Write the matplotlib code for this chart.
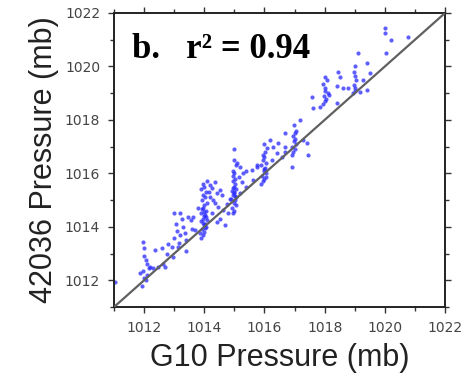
import matplotlib
matplotlib.use('Agg')
import matplotlib.pyplot as plt
from matplotlib.ticker import MultipleLocator

# G10 pressure (x) vs buoy 42036 pressure (y)
g10 = [
    # ~1011-1012
    1011.03, 1011.86, 1011.95, 1012.0, 1012.0, 1012.05, 1012.1, 1012.15, 1011.95, 1012.1,
    1012.0, 1012.05, 1011.92, 1012.2, 1012.3,
    # between 1012 and 1013
    1012.36, 1012.47, 1012.64, 1012.75, 1012.8, 1012.92, 1012.97, 1013.14, 1013.4, 1012.58,
    1012.7,
    # ~1013
    1013.0, 1013.2, 1013.05, 1013.25, 1013.3, 1013.1, 1013.35, 1013.0, 1013.2, 1013.4,
    1013.15, 1013.45, 1013.55, 1013.6,
    # ~1014 column
    1013.9, 1013.95, 1014.0, 1013.92, 1014.05, 1013.98, 1014.02, 1013.9, 1014.08, 1013.95,
    1014.0, 1013.88, 1014.05, 1013.96, 1014.0, 1014.1, 1013.93, 1014.02, 1013.97, 1014.04,
    1013.9, 1014.0, 1013.95, 1014.06, 1013.99, 1014.01, 1013.94, 1014.03,
    # scatter around 1014
    1014.19, 1014.36, 1014.41, 1014.52, 1014.3, 1014.47, 1014.24, 1014.63, 1014.52, 1014.69,
    1014.41, 1014.19, 1013.97, 1014.08, 1013.8, 1013.64, 1013.7, 1013.86, 1014.25, 1014.6,
    1014.35, 1014.15,
    # ~1015 column
    1014.95, 1015.0, 1014.92, 1015.05, 1014.98, 1015.02, 1014.9, 1015.06, 1014.96, 1015.0,
    1014.93, 1015.04, 1014.99, 1015.01, 1014.94, 1015.03, 1014.97, 1015.0, 1014.95, 1015.05,
    1015.0, 1014.98, 1015.02, 1014.96, 1015.0,
    # scatter around 1015
    1015.19, 1015.3, 1015.4, 1015.24, 1015.4, 1015.19, 1014.74, 1014.8, 1015.57, 1015.63,
    1015.74, 1015.15, 1015.1, 1014.85,
    # ~1016 column
    1015.9, 1015.95, 1016.0, 1015.92, 1016.05, 1015.98, 1016.02, 1015.9, 1016.06, 1015.96,
    1016.0, 1015.94, 1016.03, 1015.97, 1016.0, 1016.04,
    # scatter around 1016
    1016.18, 1016.29, 1016.4, 1016.57, 1016.68, 1016.46, 1016.24, 1016.1, 1015.75,
    # ~1017
    1016.9, 1016.95, 1017.0, 1016.92, 1017.05, 1016.98, 1017.02, 1016.96, 1017.0, 1017.04,
    1016.97, 1016.9, 1017.18, 1017.29, 1017.46, 1017.4, 1016.68, 1016.68,
    # ~1018
    1017.95, 1018.0, 1018.05, 1017.98, 1018.1, 1018.0, 1018.02, 1017.96, 1018.08, 1018.0,
    1017.57, 1017.62, 1017.84, 1018.4, 1018.45, 1018.4, 1018.62, 1018.15,
    # ~1019
    1018.95, 1019.0, 1019.02, 1018.98, 1019.05, 1019.0, 1018.96, 1019.0,
    1018.78, 1019.17, 1019.28, 1019.39, 1019.39, 1019.5, 1019.12, 1018.5,
    # ~1020+
    1020.0, 1020.02, 1020.05, 1020.2, 1020.78,
]
b42036 = [
    1011.95, 1012.27, 1013.45, 1013.2, 1012.9, 1012.75, 1012.6, 1012.45, 1012.35, 1012.2,
    1012.1, 1012.0, 1011.8, 1012.5, 1012.45,
    1013.15, 1012.5, 1012.62, 1013.0, 1013.37, 1013.25, 1012.87, 1013.25, 1013.1, 1013.19,
    1012.5,
    1014.5, 1014.5, 1014.1, 1014.3, 1014.0, 1013.85, 1013.75, 1013.6, 1013.7, 1013.5,
    1013.4, 1014.35, 1014.25, 1013.9,
    1013.6, 1013.7, 1013.8, 1013.9, 1014.0, 1014.05, 1014.1, 1014.2, 1014.25, 1014.3,
    1014.4, 1014.5, 1014.6, 1014.7, 1014.8, 1014.9, 1015.0, 1015.1, 1015.2, 1015.3,
    1015.4, 1015.5, 1014.15, 1014.35, 1014.55, 1013.95, 1014.65, 1014.45,
    1015.56, 1015.69, 1015.25, 1015.37, 1015.0, 1014.75, 1014.5, 1014.62, 1014.31, 1014.06,
    1014.19, 1015.1, 1015.6, 1015.7, 1014.7, 1014.37, 1013.87, 1013.75, 1015.45, 1015.2,
    1014.9, 1015.3,
    1014.5, 1014.6, 1014.7, 1014.8, 1014.9, 1015.0, 1015.05, 1015.1, 1015.2, 1015.3,
    1015.35, 1015.4, 1015.5, 1015.6, 1015.7, 1015.8, 1015.9, 1016.0, 1016.1, 1016.3,
    1016.5, 1016.9, 1015.15, 1015.45, 1015.25,
    1016.25, 1016.0, 1016.1, 1015.69, 1015.5, 1015.25, 1014.87, 1014.5, 1016.13, 1015.75,
    1016.25, 1015.85, 1016.4, 1015.05,
    1015.6, 1015.7, 1015.8, 1015.9, 1016.0, 1016.1, 1016.2, 1016.3, 1016.4, 1016.5,
    1016.6, 1016.7, 1016.8, 1017.1, 1016.15, 1015.85,
    1017.25, 1017.0, 1016.75, 1016.62, 1016.81, 1017.12, 1016.5, 1016.95, 1016.3,
    1016.7, 1016.8, 1016.9, 1017.0, 1017.1, 1017.2, 1017.3, 1017.4, 1017.5, 1017.6,
    1017.8, 1016.25, 1018.0, 1017.25, 1016.69, 1017.12, 1017.5, 1017.0,
    1018.6, 1018.7, 1018.8, 1018.9, 1019.0, 1019.1, 1019.2, 1019.35, 1019.5, 1019.6,
    1018.87, 1018.44, 1018.5, 1019.25, 1019.81, 1018.62, 1019.19, 1018.95,
    1019.0, 1019.1, 1019.2, 1019.3, 1019.5, 1019.65, 1019.8, 1020.0,
    1019.19, 1019.06, 1019.5, 1019.12, 1020.12, 1019.75, 1020.5, 1019.62,
    1021.44, 1021.25, 1020.5, 1021.0, 1021.12,
]

lims = [1011, 1022]

fig = plt.figure(figsize=(4.62, 3.89), dpi=100)
ax = fig.add_axes([0.2468, 0.2108, 0.7165, 0.7558])

ax.scatter(g10, b42036, s=9, color='#2a2aff', alpha=0.75, linewidths=0, zorder=2)
ax.plot(lims, lims, color='#606060', lw=1.6, zorder=3)

ax.set_xlim(lims)
ax.set_ylim(lims)
ax.xaxis.set_minor_locator(MultipleLocator(1))
ax.yaxis.set_minor_locator(MultipleLocator(1))
ax.set_xticks([1012, 1014, 1016, 1018, 1020, 1022])
ax.set_yticks([1012, 1014, 1016, 1018, 1020, 1022])
ax.tick_params(which='both', direction='out', top=True, right=True,
               width=1.0, color='#333333')
ax.tick_params(which='major', length=4, labelsize=10, labelcolor='#444444', pad=6)
ax.tick_params(which='minor', length=3)
for lab in ax.get_xticklabels() + ax.get_yticklabels():
    lab.set_family('DejaVu Sans')
for sp in ax.spines.values():
    sp.set_linewidth(1.4)
    sp.set_color('#222222')

ax.set_xlabel('G10 Pressure (mb)', fontsize=22, family='Liberation Sans',
              color='#222222', labelpad=6)
ax.set_ylabel('42036 Pressure (mb)', fontsize=22, family='Liberation Sans',
              color='#222222', labelpad=4)

ax.text(0.054, 0.847, 'b.   r² = 0.94', transform=ax.transAxes, fontsize=25,
        family='Liberation Serif', fontweight='bold', color='black')

fig.savefig('out.png', dpi=100)
